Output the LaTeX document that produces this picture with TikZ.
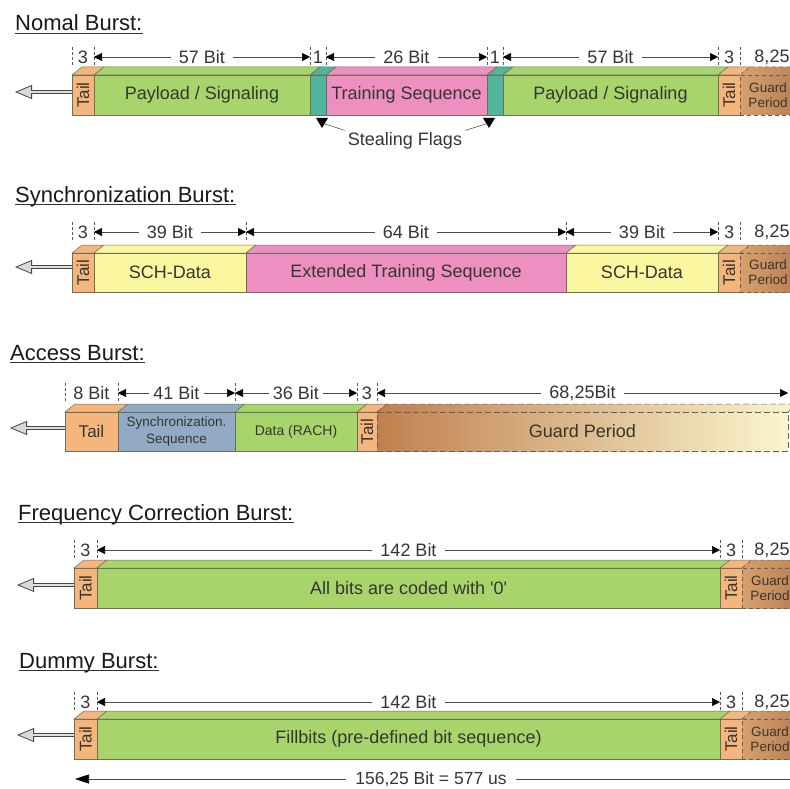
\documentclass[tikz,border=0pt]{standalone}
\usepackage{fontspec}
\setmainfont{Liberation Sans}
\usetikzlibrary{arrows.meta,calc}
\definecolor{tailc}{HTML}{F5B67E}
\definecolor{greenc}{HTML}{A8D46C}
\definecolor{tealc}{HTML}{4FB69C}
\definecolor{pinkc}{HTML}{EE8FC2}
\definecolor{yellowc}{HTML}{FBF6A0}
\definecolor{bluec}{HTML}{91ABC5}
\definecolor{guarda}{HTML}{D8A06C}
\definecolor{guardb}{HTML}{B97F55}
\definecolor{guardd}{HTML}{C0804F}
\definecolor{guardl}{HTML}{FAF6CF}
\definecolor{edgec}{HTML}{6E6E5A}
\definecolor{txtc}{HTML}{363630}
\newcommand\fs[1]{\fontsize{#1}{#1}\selectfont}
\newcommand\bseg[8]{%
  \path[topface,#6] (#2,#4) -- ({#2+10},{#4-8}) -- ({#3+10},{#4-8}) -- (#3,#4) -- cycle;
  \node[segbox,#6,#7,minimum width={(#3-#2)*1pt},minimum height={(#5-#4)*1pt}] (#1) at ({(#2+#3)/2},{(#4+#5)/2}) {#8};}
\newcommand\tk[2]{\draw[tickl] ([yshift=10pt]#1 |- #2) -- ([yshift=-8pt]#1 |- #2);}
\tikzset{
  segbox/.style={draw=edgec, line width=0.6pt, inner sep=0pt, outer sep=0pt, text=txtc, align=center, font=\fs{18}},
  topface/.style={draw=edgec, line width=0.5pt},
  tailf/.style={fill=tailc},
  tailv/.style={label={[rotate=90,font=\fs{17},text=txtc]center:Tail}},
  guardsm/.style={left color=guarda, right color=guardb, draw=gray!75!black, dash pattern=on 4pt off 3pt},
  guardbig/.style={left color=guardd, right color=guardl, draw=gray!75!black, dash pattern=on 6pt off 3pt},
  gtext/.style={font=\fontsize{13.5}{15}\selectfont},
  title/.style={anchor=base west, inner sep=0pt, font=\fs{22}, text=black!90},
  uline/.style={line width=1.9pt, black!80},
  tickl/.style={draw=gray!70!black, line width=0.5pt, dash pattern=on 3pt off 2pt},
  dim/.style={draw=gray!60!black, line width=0.6pt, {Triangle[length=8pt,width=8pt,color=black]}-{Triangle[length=8pt,width=8pt,color=black]}},
  dimlbl/.style={fill=white, inner xsep=8pt, inner ysep=1pt, font=\fs{18}, text=txtc},
  plainlbl/.style={inner sep=0pt, font=\fs{18}, text=txtc},
  bigarrow/.style={line width=4pt, draw=gray!55!black, -{Triangle[length=17pt,width=14pt,fill=gray!30,line width=0.8pt]},
    postaction={draw=gray!25, line width=1.3pt, -, shorten >=16pt}},
  flagl/.style={draw=gray!70!black, line width=0.6pt},
}
\begin{document}
\begin{tikzpicture}[x=1pt,y=-1pt]
\useasboundingbox (0,0) rectangle (790,789);
\fill[white] (0,0) rectangle (790,789);

% ---------------- Normal burst ----------------
\node[title] (tn) at (15,31) {Nomal Burst:};
\draw[uline] ([yshift=-2.5pt]tn.base west) -- ([yshift=-2.5pt]tn.base east);
\bseg{n1}{72}{94}{75}{115}{tailf}{tailv}{}
\bseg{n2}{94}{310}{75}{115}{fill=greenc}{}{Payload / Signaling}
\bseg{n3}{310}{326}{75}{115}{fill=tealc}{}{}
\bseg{n4}{326}{487}{75}{115}{fill=pinkc}{}{Training Sequence}
\bseg{n5}{487}{503}{75}{115}{fill=tealc}{}{}
\bseg{n6}{503}{718}{75}{115}{fill=greenc}{}{Payload / Signaling}
\bseg{n7}{718}{740}{75}{115}{tailf}{tailv}{}
\bseg{n8}{740}{796}{75}{115}{guardsm}{gtext}{Guard\\Period}
\coordinate (nd) at (0,57);
\tk{n1.north west}{nd}\tk{n1.north east}{nd}\tk{n2.north east}{nd}\tk{n3.north east}{nd}
\tk{n4.north east}{nd}\tk{n5.north east}{nd}\tk{n6.north east}{nd}\tk{n7.north east}{nd}
\node[plainlbl] at (n1.north |- nd) {3};
\node[plainlbl] at (n3.north |- nd) {1};
\node[plainlbl] at (n5.north |- nd) {1};
\node[plainlbl] at (n7.north |- nd) {3};
\node[plainlbl] at ([xshift=4pt]n8.north |- nd) {8,25};
\draw[dim] (n2.north west |- nd) -- (n2.north east |- nd) node[midway,dimlbl] {57 Bit};
\draw[dim] (n4.north west |- nd) -- (n4.north east |- nd) node[midway,dimlbl] {26 Bit};
\draw[dim] (n6.north west |- nd) -- (n6.north east |- nd) node[midway,dimlbl] {57 Bit};
\coordinate (na) at (15,92);
\draw[bigarrow] (n1.west |- na) -- (na);
\node[plainlbl] (sf) at (405,141) {Stealing Flags};
\coordinate (sfa) at (322,123);
\coordinate (sfb) at (489,123);
\draw[flagl] ([shift={(-3pt,2pt)}]sf.north west) -- (sfa);
\draw[flagl] ([shift={(3pt,2pt)}]sf.north east) -- (sfb);
\fill[black] ($(sfa)+(-6,-5)$) -- ($(sfa)+(6,-5)$) -- ($(sfa)+(0,5)$) -- cycle;
\fill[black] ($(sfb)+(-6,-5)$) -- ($(sfb)+(6,-5)$) -- ($(sfb)+(0,5)$) -- cycle;

% ---------------- Synchronization burst ----------------
\node[title] (ts) at (15,202) {Synchronization Burst:};
\draw[uline] ([yshift=-2.5pt]ts.base west) -- ([yshift=-2.5pt]ts.base east);
\bseg{s1}{72}{94}{253}{292}{tailf}{tailv}{}
\bseg{s2}{94}{246}{253}{292}{fill=yellowc}{}{SCH-Data}
\bseg{s3}{246}{566}{253}{292}{fill=pinkc}{}{Extended Training Sequence}
\bseg{s4}{566}{718}{253}{292}{fill=yellowc}{}{SCH-Data}
\bseg{s5}{718}{740}{253}{292}{tailf}{tailv}{}
\bseg{s6}{740}{796}{253}{292}{guardsm}{gtext}{Guard\\Period}
\coordinate (sd) at (0,232);
\tk{s1.north west}{sd}\tk{s1.north east}{sd}\tk{s2.north east}{sd}\tk{s3.north east}{sd}
\tk{s4.north east}{sd}\tk{s5.north east}{sd}
\node[plainlbl] at (s1.north |- sd) {3};
\node[plainlbl] at (s5.north |- sd) {3};
\node[plainlbl] at ([xshift=4pt]s6.north |- sd) {8,25};
\draw[dim] (s2.north west |- sd) -- (s2.north east |- sd) node[midway,dimlbl] {39 Bit};
\draw[dim] (s3.north west |- sd) -- (s3.north east |- sd) node[midway,dimlbl] {64 Bit};
\draw[dim] (s4.north west |- sd) -- (s4.north east |- sd) node[midway,dimlbl] {39 Bit};
\coordinate (sa) at (15,267);
\draw[bigarrow] (s1.west |- sa) -- (sa);

% ---------------- Access burst ----------------
\node[title] (ta) at (10,360) {Access Burst:};
\draw[uline] ([yshift=-2.5pt]ta.base west) -- ([yshift=-2.5pt]ta.base east);
\bseg{a1}{65}{118}{412}{451}{tailf}{font=\fs{17}}{Tail}
\bseg{a2}{118}{235}{412}{451}{fill=bluec}{font=\fontsize{13.5}{17}\selectfont}{Synchronization.\\Sequence}
\bseg{a3}{235}{357}{412}{451}{fill=greenc}{font=\fs{14}}{Data (RACH)}
\bseg{a4}{357}{377}{412}{451}{tailf}{tailv}{}
\bseg{a5}{377}{788}{412}{451}{guardbig}{}{Guard Period}
\coordinate (ad) at (0,393);
\tk{a1.north west}{ad}\tk{a1.north east}{ad}\tk{a2.north east}{ad}\tk{a3.north east}{ad}\tk{a4.north east}{ad}
\node[plainlbl] at (a1.north |- ad) {8 Bit};
\node[plainlbl] at (a4.north |- ad) {3};
\draw[dim] (a2.north west |- ad) -- (a2.north east |- ad) node[midway,dimlbl,inner xsep=4pt] {41 Bit};
\draw[dim] (a3.north west |- ad) -- (a3.north east |- ad) node[midway,dimlbl,inner xsep=4pt] {36 Bit};
\draw[dim] (a5.north west |- ad) -- (a5.north east |- ad) node[midway,dimlbl] {68,25Bit};
\coordinate (aa) at (10,428);
\draw[bigarrow] (a1.west |- aa) -- (aa);

% ---------------- Frequency correction burst ----------------
\node[title] (tf) at (18,520) {Frequency Correction Burst:};
\draw[uline] ([yshift=-2.5pt]tf.base west) -- ([yshift=-2.5pt]tf.base east);
\bseg{f1}{74}{97}{568}{608}{tailf}{tailv}{}
\bseg{f2}{97}{720}{568}{608}{fill=greenc}{}{All bits are coded with \textquotesingle 0\textquotesingle}
\bseg{f3}{720}{742}{568}{608}{tailf}{tailv}{}
\bseg{f4}{742}{798}{568}{608}{guardsm}{gtext}{Guard\\Period}
\coordinate (fd) at (0,550);
\tk{f1.north west}{fd}\tk{f1.north east}{fd}\tk{f2.north east}{fd}\tk{f3.north east}{fd}
\node[plainlbl] at (f1.north |- fd) {3};
\node[plainlbl] at (f3.north |- fd) {3};
\node[plainlbl] at ([xshift=2pt]f4.north |- fd) {8,25};
\draw[dim] (f2.north west |- fd) -- (f2.north east |- fd) node[midway,dimlbl] {142 Bit};
\coordinate (fa) at (17,585);
\draw[bigarrow] (f1.west |- fa) -- (fa);

% ---------------- Dummy burst ----------------
\node[title] (td) at (19,668) {Dummy Burst:};
\draw[uline] ([yshift=-2.5pt]td.base west) -- ([yshift=-2.5pt]td.base east);
\bseg{d1}{74}{97}{719}{759}{tailf}{tailv}{}
\bseg{d2}{97}{720}{719}{759}{fill=greenc}{}{Fillbits (pre-defined bit sequence)}
\bseg{d3}{720}{742}{719}{759}{tailf}{tailv}{}
\bseg{d4}{742}{798}{719}{759}{guardsm}{gtext}{Guard\\Period}
\coordinate (dd) at (0,702);
\tk{d1.north west}{dd}\tk{d1.north east}{dd}\tk{d2.north east}{dd}\tk{d3.north east}{dd}
\node[plainlbl] at (d1.north |- dd) {3};
\node[plainlbl] at (d3.north |- dd) {3};
\node[plainlbl] at ([xshift=2pt]d4.north |- dd) {8,25};
\draw[dim] (d2.north west |- dd) -- (d2.north east |- dd) node[midway,dimlbl] {142 Bit};
\coordinate (da) at (17,735);
\draw[bigarrow] (d1.west |- da) -- (da);

% total length
\coordinate (bl) at (75,779);
\coordinate (br) at (800,779);
\draw[draw=gray!60!black, line width=0.6pt, {Triangle[length=14pt,width=9pt,color=black]}-] (bl) -- (br)
  node[pos=0.491, fill=white, inner xsep=9pt, inner ysep=0pt, font=\fs{17.5}, text=txtc] {156,25 Bit = 577 us};
\end{tikzpicture}
\end{document}
